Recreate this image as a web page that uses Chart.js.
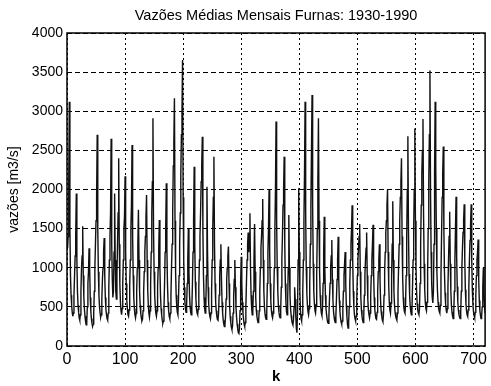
<!DOCTYPE html>
<html>
<head>
<meta charset="utf-8">
<script src="https://cdn.jsdelivr.net/npm/chart.js@4.4.1/dist/chart.umd.min.js"></script>
<style>
  html, body { margin: 0; padding: 0; background: #fff; }
  #flowChart { display: block; }
</style>
</head>
<body>
<canvas id="flowChart" width="491" height="386"></canvas>
<script>
// monthly mean flows [m3/s], one row per year (k = 1..720)
const flows1930s = [
  1250, 1400, 2100, 3120, 1500, 900, 650, 520, 430, 380, 420, 650,
  900, 1150, 1400, 1950, 1100, 700, 520, 430, 360, 330, 400, 700,
  1000, 1150, 1530, 900, 620, 470, 380, 310, 270, 300, 500, 800,
  950, 1250, 1000, 620, 450, 350, 290, 250, 280, 420, 700, 1000,
  1300, 1600, 1900, 2700, 1500, 950, 650, 500, 420, 370, 400, 600,
  850, 1000, 1200, 1380, 900, 620, 470, 400, 350, 330, 420, 750,
  1100, 1400, 1700, 2650, 1300, 850, 620, 700, 1200, 1950, 1100, 700,
  600, 900, 1300, 1700, 2400, 1300, 800, 560, 450, 400, 480, 800,
  1100, 1500, 1650, 2170, 1200, 800, 580, 470, 400, 380, 460, 780,
  1100, 1500, 1800, 2570, 1400, 900, 620, 480, 400, 360, 420, 700
];
const flows1940s = [
  1000, 1300, 1740, 1100, 700, 520, 420, 360, 320, 340, 450, 700,
  950, 1200, 1400, 1650, 1930, 1100, 720, 520, 420, 370, 450, 800,
  1200, 1700, 2100, 2910, 1500, 950, 650, 500, 420, 380, 450, 750,
  1000, 1250, 1610, 1000, 650, 480, 400, 330, 290, 320, 480, 800,
  1200, 1500, 2080, 1250, 800, 560, 450, 380, 350, 420, 650, 1000,
  1300, 1700, 2300, 2600, 3165, 1600, 950, 650, 500, 430, 400, 600,
  900, 1300, 1700, 2200, 2700, 3000, 3655, 1900, 1100, 750, 560, 470,
  430, 520, 800, 1100, 1500, 950, 650, 500, 430, 400, 480, 800,
  1200, 1600, 2290, 1300, 820, 600, 480, 420, 400, 470, 750, 1100,
  1400, 1700, 2100, 2300, 2675, 1500, 900, 620, 480, 420, 480, 900
];
const flows1950s = [
  2036, 1200, 750, 540, 430, 380, 350, 420, 700, 1100, 1500, 1900,
  2420, 1300, 800, 560, 450, 380, 340, 330, 420, 650, 900, 1100,
  1300, 850, 560, 420, 330, 280, 250, 270, 380, 600, 850, 1000,
  1150, 1270, 800, 520, 380, 300, 240, 210, 250, 420, 650, 850,
  1100, 750, 500, 370, 280, 220, 170, 160, 230, 450, 800, 1140,
  800, 560, 420, 340, 280, 250, 300, 500, 800, 1100, 1300, 1450,
  1200, 1400, 1695, 1000, 650, 480, 400, 450, 700, 1100, 1560, 950,
  620, 460, 380, 330, 300, 320, 450, 700, 1000, 1250, 1400, 1600,
  1880, 1100, 700, 500, 410, 360, 340, 450, 800, 1200, 1500, 2000,
  1200, 800, 570, 450, 390, 360, 420, 650, 1000, 1500, 2000, 2870
];
const flows1960s = [
  1600, 1000, 700, 520, 430, 380, 360, 450, 750, 1100, 1400, 1800,
  2000, 2420, 1300, 800, 560, 440, 400, 600, 1000, 1674, 1000, 650,
  480, 390, 330, 290, 270, 330, 500, 750, 600, 380, 220, 170,
  450, 1100, 2015, 1200, 700, 450, 350, 320, 400, 700, 1100, 1600,
  2200, 3122, 1700, 1000, 680, 520, 440, 400, 480, 800, 1300, 1800,
  2500, 3208, 1800, 1050, 700, 540, 450, 420, 520, 900, 1500, 2100,
  2910, 1600, 950, 650, 500, 420, 390, 480, 800, 1200, 1652, 1000,
  650, 480, 400, 340, 300, 290, 380, 600, 800, 1000, 1150, 1355,
  850, 580, 440, 370, 320, 300, 380, 600, 850, 1100, 1397, 850,
  580, 440, 360, 310, 280, 320, 480, 700, 900, 1050, 1200, 800
];
const flows1970s = [
  520, 380, 280, 230, 300, 500, 800, 1100, 1300, 1500, 1800, 1100,
  700, 500, 400, 350, 320, 380, 600, 900, 1100, 1250, 1400, 1560,
  950, 620, 460, 380, 330, 300, 380, 650, 900, 1100, 1250, 1450,
  900, 600, 460, 400, 360, 420, 650, 900, 1100, 1300, 1550, 950,
  620, 470, 400, 350, 340, 430, 700, 950, 1100, 1300, 850, 580,
  440, 380, 330, 310, 400, 650, 950, 1200, 1450, 1600, 1800, 2000,
  1200, 780, 560, 460, 420, 550, 900, 1300, 1850, 1100, 700, 520,
  430, 380, 350, 330, 420, 700, 1000, 1300, 1600, 1900, 2100, 2400,
  1400, 880, 620, 500, 440, 420, 520, 900, 1400, 2000, 2680, 1500,
  920, 650, 510, 440, 400, 460, 750, 1100, 1500, 2000, 2780, 1600
];
const flows1980s = [
  1000, 700, 540, 460, 420, 400, 480, 800, 1300, 1800, 2200, 2500,
  2900, 1700, 1050, 720, 560, 480, 450, 560, 950, 1500, 2100, 2700,
  3520, 2000, 1200, 800, 620, 550, 700, 1300, 2200, 3120, 2300, 1500,
  950, 700, 560, 480, 440, 420, 520, 900, 1400, 1900, 2200, 2550,
  1500, 950, 680, 540, 460, 420, 480, 750, 1100, 1400, 1716, 1050,
  700, 520, 430, 380, 350, 420, 700, 1100, 1500, 1908, 1150, 760,
  560, 460, 400, 370, 350, 430, 700, 1000, 1250, 1450, 1600, 1810,
  1100, 720, 540, 450, 400, 380, 460, 750, 1100, 1350, 1550, 1810,
  1100, 720, 530, 440, 390, 360, 430, 650, 900, 1100, 1200, 1360,
  850, 580, 450, 390, 350, 380, 500, 750, 1000, 700, 500, 420
];

const xTicks = [0, 100, 200, 300, 400, 500, 600, 700];
const yTicks = [0, 500, 1000, 1500, 2000, 2500, 3000, 3500, 4000];

const monthlyFlows = [].concat(flows1930s, flows1940s, flows1950s, flows1960s, flows1970s, flows1980s);
const flowPoints = monthlyFlows.map((v, i) => ({ x: i + 1, y: v }));

const fontFamily = "'Liberation Sans', Arial, Helvetica, sans-serif";
Chart.defaults.font.family = fontFamily;
Chart.defaults.color = "#000";

// solid frame around the plot area
const frameBox = {
  id: "frameBox",
  afterDraw(chart) {
    const { ctx, chartArea: a } = chart;
    ctx.save();
    ctx.strokeStyle = "#000";
    ctx.lineWidth = 1.5;
    ctx.strokeRect(a.left, a.top, a.right - a.left, a.bottom - a.top);
    ctx.restore();
  },
};

const plainNumber = (value) => String(value);

const config = {
  type: "line",
  data: {
    datasets: [
      {
        label: "vazões",
        data: flowPoints,
        borderColor: "#111",
        borderWidth: 1.4,
        pointRadius: 0,
        tension: 0,
        fill: false,
      },
    ],
  },
  options: {
    responsive: false,
    animation: false,
    layout: { padding: { right: 1 } },
    plugins: {
      legend: { display: false },
      tooltip: { enabled: false },
      title: {
        display: true,
        text: "Vazões Médias Mensais Furnas: 1930-1990",
        fullSize: false,
        color: "#000",
        font: { size: 14.5, weight: "normal" },
        padding: { top: 7, bottom: 8.6 },
      },
    },
    scales: {
      x: {
        type: "linear",
        min: 0,
        max: 720,
        afterBuildTicks: (axis) => {
          axis.ticks = xTicks.map((v) => ({ value: v }));
        },
        afterFit: (scale) => {
          scale.height = 40;
        },
        ticks: { font: { size: 16 }, color: "#000", padding: 4, maxRotation: 0, callback: plainNumber },
        grid: { color: "#000", lineWidth: 1, drawTicks: false },
        border: { display: false, dash: [2, 3] },
        title: {
          display: true,
          text: "k",
          color: "#000",
          font: { size: 15, weight: "bold" },
          padding: { top: 0, bottom: 0 },
        },
      },
      y: {
        min: 0,
        max: 4000,
        afterBuildTicks: (axis) => {
          axis.ticks = yTicks.map((v) => ({ value: v }));
        },
        afterFit: (scale) => {
          scale.width = 67;
        },
        ticks: { font: { size: 14 }, color: "#000", padding: 4, callback: plainNumber },
        grid: { color: "#000", lineWidth: 1, drawTicks: false },
        border: { display: false, dash: [5, 3] },
        title: {
          display: true,
          text: "vazões [m3/s]",
          color: "#000",
          font: { size: 14, weight: "normal" },
          padding: { top: 6, bottom: 0 },
        },
      },
    },
  },
  plugins: [frameBox],
};

const flowChart = new Chart(document.getElementById("flowChart"), config);
</script>
</body>
</html>
